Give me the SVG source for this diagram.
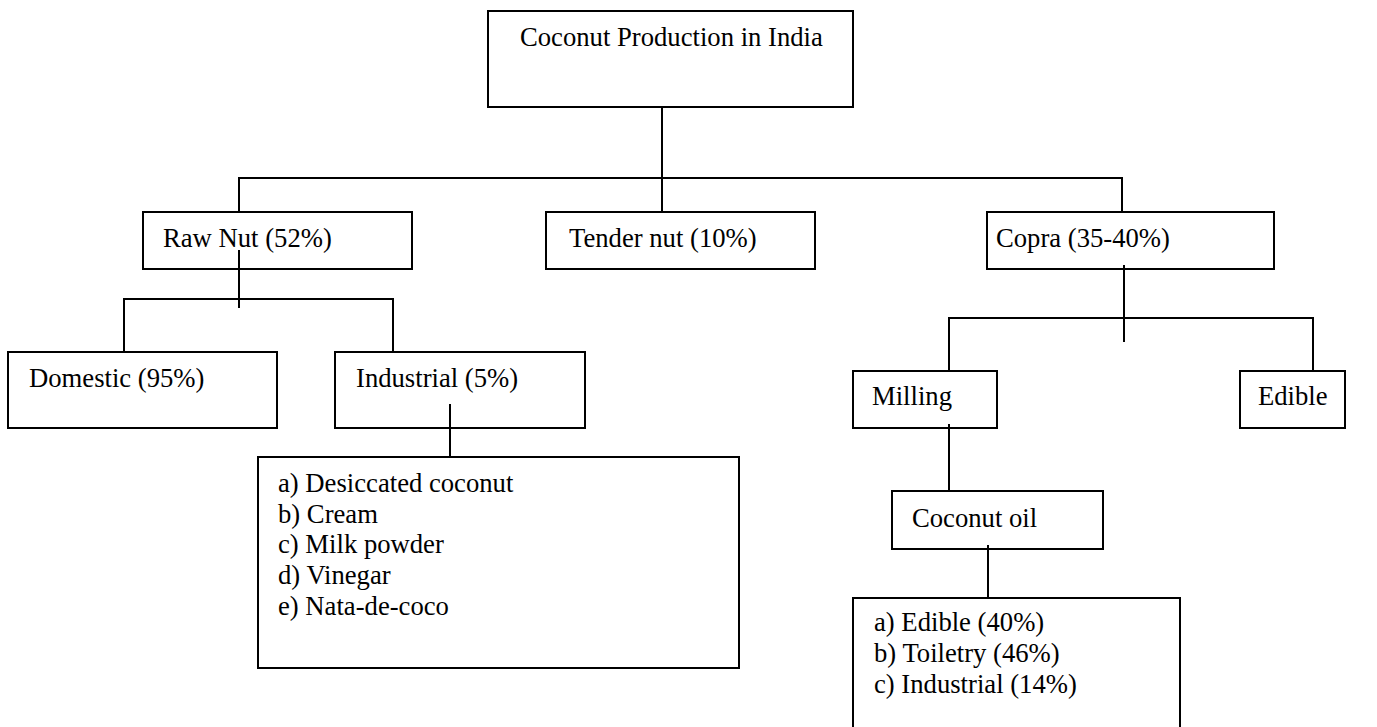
<svg xmlns="http://www.w3.org/2000/svg" width="1377" height="727" viewBox="0 0 1377 727">
<style>
.box{fill:#fff;stroke:#000;stroke-width:2}
.ln{fill:none;stroke:#000;stroke-width:2}
text{font-family:"Liberation Serif","Times New Roman",serif;font-size:26.67px;fill:#000}
</style>
<rect width="1377" height="727" fill="#fff"/>
<g id="connectors">
<path class="ln" d="M662 107V212"/>
<path class="ln" d="M239 212V178H1122V212"/>
<path class="ln" d="M239 250V308"/>
<path class="ln" d="M124 352V299H393V352"/>
<path class="ln" d="M450 404V457"/>
<path class="ln" d="M1124 265V342"/>
<path class="ln" d="M949 371V318H1313V371"/>
<path class="ln" d="M949 424V491"/>
<path class="ln" d="M988 545V598"/>
</g>
<g id="root"><rect class="box" x="488" y="11" width="365" height="96"/><text x="520" y="46">Coconut Production in India</text></g>
<g id="rawnut"><rect class="box" x="143" y="212" width="269" height="57" style="fill:none"/><text x="163" y="247">Raw Nut (52%)</text></g>
<g id="tendernut"><rect class="box" x="546" y="212" width="269" height="57"/><text x="569" y="247">Tender nut (10%)</text></g>
<g id="copra"><rect class="box" x="987" y="212" width="287" height="57" style="fill:none"/><text x="996" y="247">Copra (35-40%)</text></g>
<g id="domestic"><rect class="box" x="8" y="352" width="269" height="76"/><text x="29" y="387">Domestic (95%)</text></g>
<g id="industrial"><rect class="box" x="335" y="352" width="250" height="76" style="fill:none"/><text x="356" y="387">Industrial (5%)</text></g>
<g id="industrial-products"><rect class="box" x="258" y="457" width="481" height="211"/>
<text x="278" y="492">a) Desiccated coconut</text>
<text x="278" y="523">b) Cream</text>
<text x="278" y="553">c) Milk powder</text>
<text x="278" y="584">d) Vinegar</text>
<text x="278" y="615">e) Nata-de-coco</text></g>
<g id="milling"><rect class="box" x="853" y="371" width="144" height="57" style="fill:none"/><text x="872" y="405">Milling</text></g>
<g id="edible"><rect class="box" x="1240" y="371" width="105" height="57"/><text x="1258" y="405">Edible</text></g>
<g id="coconutoil"><rect class="box" x="892" y="491" width="211" height="58" style="fill:none"/><text x="912" y="527">Coconut oil</text></g>
<g id="oil-uses"><path class="ln" d="M853 730V598H1180V730"/>
<text x="874" y="631">a) Edible (40%)</text>
<text x="874" y="662">b) Toiletry (46%)</text>
<text x="874" y="693">c) Industrial (14%)</text></g>
</svg>
